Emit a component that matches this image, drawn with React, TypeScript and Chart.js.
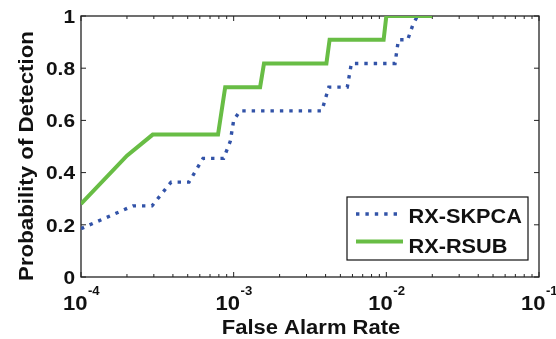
import React, { useEffect, useRef } from "react";
import { Chart, registerables } from "chart.js";

Chart.register(...registerables);

// RX-SKPCA (blue dotted)
const skpcaX = [1e-4, 2.19e-4, 2.92e-4, 3.89e-4, 5.1e-4, 6.3e-4, 8.6e-4, 9.5e-4, 1.0e-3, 1.1e-3, 3.78e-3, 4.2e-3, 5.55e-3, 5.9e-3, 1.14e-2, 1.2e-2, 1.38e-2, 1.5e-2, 1.6e-2];
const skpcaY = [0.185, 0.2727, 0.2727, 0.3636, 0.3636, 0.4545, 0.4545, 0.52, 0.6, 0.6364, 0.6364, 0.7273, 0.7273, 0.8182, 0.8182, 0.9091, 0.9091, 0.97, 1.0];

// RX-RSUB (green solid)
const rsubX = [1e-4, 2e-4, 2.95e-4, 7.9e-4, 8.8e-4, 1.49e-3, 1.58e-3, 4.05e-3, 4.25e-3, 9.6e-3, 1e-2, 2e-2];
const rsubY = [0.28, 0.465, 0.5455, 0.5455, 0.7273, 0.7273, 0.8182, 0.8182, 0.9091, 0.9091, 1.0, 1.0];

const seriesNames = ["RX-SKPCA", "RX-RSUB"];
const yTickValues = [0, 0.2, 0.4, 0.6, 0.8, 1];
const yTickLabels = ["0", "0.2", "0.4", "0.6", "0.8", "1"];
const xTickExponents = [-4, -3, -2, -1];
const xTitle = "False Alarm Rate";
const yTitle = "Probability of Detection";

const BLUE = "#3253a8";
const GREEN = "#68bd45";
const FONT = '"Liberation Sans", Arial, Helvetica, sans-serif';

function txt(ctx: CanvasRenderingContext2D, s: string, x: number, y: number, size: number, sx: number, align: CanvasTextAlign) {
  ctx.save();
  ctx.font = `bold ${size}px ${FONT}`;
  ctx.fillStyle = "#111";
  ctx.textBaseline = "alphabetic";
  ctx.textAlign = align;
  ctx.translate(x, y);
  ctx.scale(sx, 1);
  ctx.fillText(s, 0, 0);
  ctx.restore();
}

function width(ctx: CanvasRenderingContext2D, s: string, size: number, sx: number) {
  ctx.save();
  ctx.font = `bold ${size}px ${FONT}`;
  const w = ctx.measureText(s).width * sx;
  ctx.restore();
  return w;
}

const framePlugin = {
  id: "frame",
  beforeDatasetsDraw(chart: any) {
    const ctx: CanvasRenderingContext2D = chart.ctx;
    const { left, right, top, bottom } = chart.chartArea;
    const xs = chart.scales.x;
    const ys = chart.scales.y;
    ctx.save();
    ctx.strokeStyle = "#222";
    ctx.lineWidth = 1.3;
    ctx.strokeRect(left, top, right - left, bottom - top);
    ctx.lineWidth = 1;
    ctx.beginPath();
    // x ticks major + minor
    for (let e = -4; e <= -1; e++) {
      for (let k = 1; k <= 9; k++) {
        const v = k * Math.pow(10, e);
        if (v > 0.1 * 1.0001) break;
        const px = xs.getPixelForValue(v);
        const len = k === 1 ? 5 : 3;
        ctx.moveTo(px, bottom);
        ctx.lineTo(px, bottom - len);
        ctx.moveTo(px, top);
        ctx.lineTo(px, top + len);
      }
    }
    for (const v of yTickValues) {
      const py = ys.getPixelForValue(v);
      ctx.moveTo(left, py);
      ctx.lineTo(left + 5, py);
      ctx.moveTo(right, py);
      ctx.lineTo(right - 5, py);
    }
    ctx.stroke();
    ctx.restore();
  },
  afterDraw(chart: any) {
    const ctx: CanvasRenderingContext2D = chart.ctx;
    const { left, right, top, bottom } = chart.chartArea;
    const xs = chart.scales.x;
    const ys = chart.scales.y;

    // y tick labels
    yTickValues.forEach((v, i) => {
      const py = ys.getPixelForValue(v);
      txt(ctx, yTickLabels[i], left - 6, py + 6.8, 19, 1.1, "right");
    });

    // x tick labels 10^e
    xTickExponents.forEach((e) => {
      const px = xs.getPixelForValue(Math.pow(10, e));
      const base = "10";
      const sup = String(e);
      const w1 = width(ctx, base, 21, 1.05);
      const w2 = width(ctx, sup, 12.5, 1.05);
      const x0 = px - (w1 + w2) / 2;
      txt(ctx, base, x0, 309.5, 21, 1.05, "left");
      txt(ctx, sup, x0 + w1 + 0.5, 294.5, 12.5, 1.05, "left");
    });

    // axis titles
    txt(ctx, xTitle, (left + right) / 2 + 1, 333.5, 20, 1.1, "left" === "left" ? "center" : "center");
    ctx.save();
    ctx.translate(33, 156);
    ctx.rotate(-Math.PI / 2);
    txt(ctx, yTitle, 0, 0, 21, 1.06, "center");
    ctx.restore();

    // legend
    const lx = 347, ly = 197, lw = 181, lh = 63;
    ctx.save();
    ctx.fillStyle = "#fff";
    ctx.fillRect(lx, ly, lw, lh);
    ctx.strokeStyle = "#111";
    ctx.lineWidth = 1.2;
    ctx.strokeRect(lx, ly, lw, lh);
    ctx.lineCap = "butt";
    ctx.strokeStyle = BLUE;
    ctx.lineWidth = 3.4;
    ctx.setLineDash([3.4, 6.0]);
    ctx.beginPath();
    ctx.moveTo(356, 214);
    ctx.lineTo(402, 214);
    ctx.stroke();
    ctx.setLineDash([]);
    ctx.strokeStyle = GREEN;
    ctx.lineWidth = 4;
    ctx.beginPath();
    ctx.moveTo(356, 241.5);
    ctx.lineTo(403, 241.5);
    ctx.stroke();
    ctx.restore();
    txt(ctx, seriesNames[0], 408.5, 223.3, 20.5, 1.06, "left");
    txt(ctx, seriesNames[1], 408.5, 253.3, 20.5, 1.06, "left");
  },
};

export default function App() {
  const ref = useRef<HTMLCanvasElement | null>(null);
  useEffect(() => {
    if (!ref.current) return;
    const chart = new Chart(ref.current, {
      type: "line",
      data: {
        datasets: [
          {
            label: seriesNames[0],
            data: skpcaX.map((x, i) => ({ x, y: skpcaY[i] })),
            borderColor: BLUE,
            borderWidth: 3.4,
            borderDash: [3.4, 6.0],
            borderCapStyle: "butt",
            pointRadius: 0,
            tension: 0,
            fill: false,
            order: 1,
          },
          {
            label: seriesNames[1],
            data: rsubX.map((x, i) => ({ x, y: rsubY[i] })),
            borderColor: GREEN,
            borderWidth: 4,
            pointRadius: 0,
            tension: 0,
            fill: false,
            order: 0,
          },
        ],
      },
      options: {
        responsive: false,
        animation: false,
        devicePixelRatio: 1,
        layout: { padding: { left: 0, right: 17, top: 16, bottom: 0 } },
        plugins: { legend: { display: false }, tooltip: { enabled: false } },
        scales: {
          x: {
            type: "logarithmic",
            min: 1e-4,
            max: 1e-1,
            grid: { display: false, drawTicks: false },
            border: { display: false },
            ticks: { display: false },
            afterFit: (s: any) => {
              s.height = 62;
            },
          },
          y: {
            min: 0,
            max: 1,
            grid: { display: false, drawTicks: false },
            border: { display: false },
            ticks: { display: false },
            afterFit: (s: any) => {
              s.width = 81;
            },
          },
        },
      },
      plugins: [framePlugin],
    } as any);
    return () => chart.destroy();
  }, []);
  return (
    <div style={{ position: "fixed", left: 0, top: 0, width: 556, height: 339, background: "#fff" }}>
      <canvas ref={ref} width={556} height={339} />
    </div>
  );
}
